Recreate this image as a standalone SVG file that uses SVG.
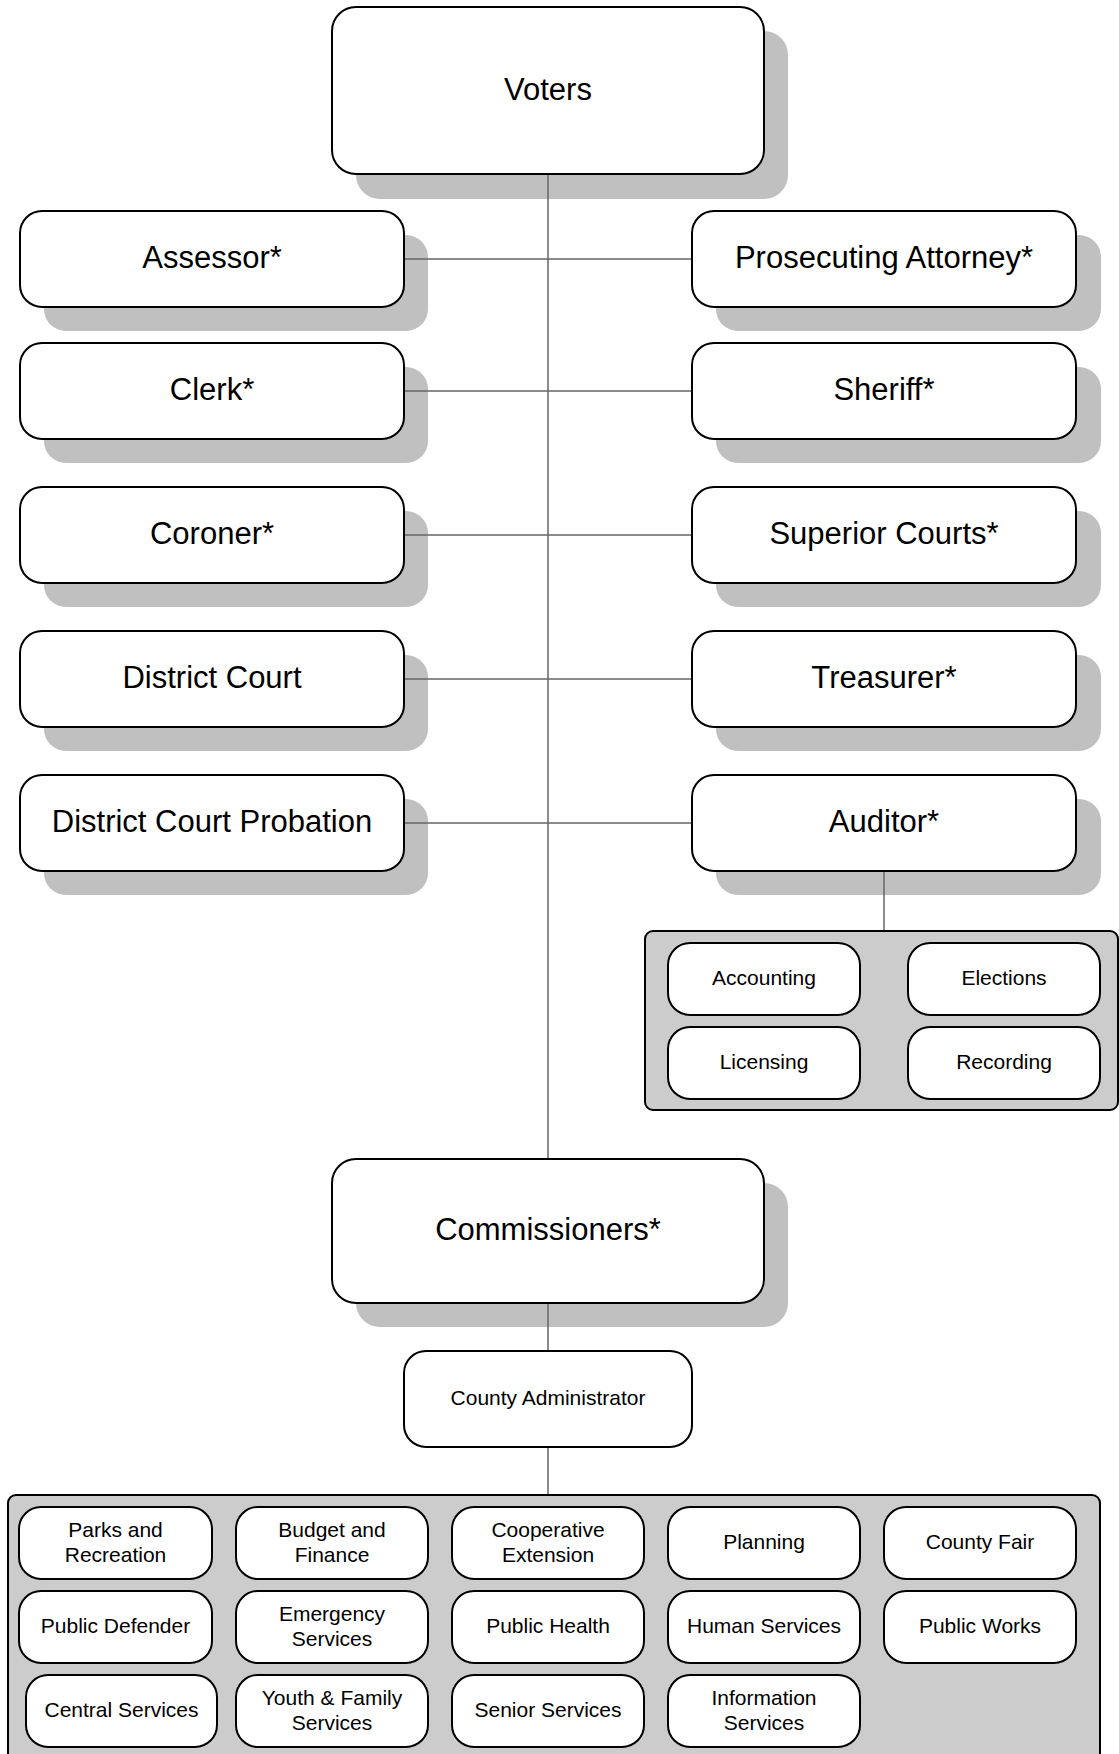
<svg xmlns="http://www.w3.org/2000/svg" width="1119" height="1754" viewBox="0 0 1119 1754">
<style>
.sh{fill:#c0c0c0}
.bx{fill:#fff;stroke:#000;stroke-width:2}
.grp{fill:#cccccc;stroke:#000;stroke-width:2}
.cn{stroke:#666;stroke-width:1.5;fill:none}
text{font-family:"Liberation Sans",Arial,sans-serif;fill:#000;text-anchor:middle}
.L{font-size:31px}
.S{font-size:21px}
</style>
<rect width="1119" height="1754" fill="#fff"/>
<g id="voters"><rect class="sh" x="356" y="31" width="432" height="168" rx="24"/><rect class="bx" x="332" y="7" width="432" height="167" rx="24"/><text class="L" x="548" y="99.5">Voters</text></g>
<g id="assessor"><rect class="sh" x="44" y="235" width="384" height="96" rx="22"/><rect class="bx" x="20" y="211" width="384" height="96" rx="22"/><text class="L" x="212" y="268">Assessor*</text></g>
<g id="prosecuting-attorney"><rect class="sh" x="716" y="235" width="385" height="96" rx="22"/><rect class="bx" x="692" y="211" width="384" height="96" rx="22"/><text class="L" x="884" y="268">Prosecuting Attorney*</text></g>
<g id="clerk"><rect class="sh" x="44" y="367" width="384" height="96" rx="22"/><rect class="bx" x="20" y="343" width="384" height="96" rx="22"/><text class="L" x="212" y="400">Clerk*</text></g>
<g id="sheriff"><rect class="sh" x="716" y="367" width="385" height="96" rx="22"/><rect class="bx" x="692" y="343" width="384" height="96" rx="22"/><text class="L" x="884" y="400">Sheriff*</text></g>
<g id="coroner"><rect class="sh" x="44" y="511" width="384" height="96" rx="22"/><rect class="bx" x="20" y="487" width="384" height="96" rx="22"/><text class="L" x="212" y="544">Coroner*</text></g>
<g id="superior-courts"><rect class="sh" x="716" y="511" width="385" height="96" rx="22"/><rect class="bx" x="692" y="487" width="384" height="96" rx="22"/><text class="L" x="884" y="544">Superior Courts*</text></g>
<g id="district-court"><rect class="sh" x="44" y="655" width="384" height="96" rx="22"/><rect class="bx" x="20" y="631" width="384" height="96" rx="22"/><text class="L" x="212" y="688">District Court</text></g>
<g id="treasurer"><rect class="sh" x="716" y="655" width="385" height="96" rx="22"/><rect class="bx" x="692" y="631" width="384" height="96" rx="22"/><text class="L" x="884" y="688">Treasurer*</text></g>
<g id="district-court-probation"><rect class="sh" x="44" y="799" width="384" height="96" rx="22"/><rect class="bx" x="20" y="775" width="384" height="96" rx="22"/><text class="L" x="212" y="832">District Court Probation</text></g>
<g id="auditor"><rect class="sh" x="716" y="799" width="385" height="96" rx="22"/><rect class="bx" x="692" y="775" width="384" height="96" rx="22"/><text class="L" x="884" y="832">Auditor*</text></g>
<g id="auditor-group"><rect class="grp" x="645" y="931" width="473" height="179" rx="8"/>
<g id="accounting"><rect class="bx" x="668" y="943" width="192" height="72" rx="22"/><text class="S" x="764" y="984.5">Accounting</text></g>
<g id="elections"><rect class="bx" x="908" y="943" width="192" height="72" rx="22"/><text class="S" x="1004" y="984.5">Elections</text></g>
<g id="licensing"><rect class="bx" x="668" y="1027" width="192" height="72" rx="22"/><text class="S" x="764" y="1068.5">Licensing</text></g>
<g id="recording"><rect class="bx" x="908" y="1027" width="192" height="72" rx="22"/><text class="S" x="1004" y="1068.5">Recording</text></g>
</g>
<g id="commissioners"><rect class="sh" x="356" y="1183" width="432" height="144" rx="24"/><rect class="bx" x="332" y="1159" width="432" height="144" rx="24"/><text class="L" x="548" y="1240">Commissioners*</text></g>
<g id="county-administrator"><rect class="bx" x="404" y="1351" width="288" height="96" rx="22"/><text class="S" x="548" y="1404.5">County Administrator</text></g>
<g id="departments"><rect class="grp" x="8" y="1495" width="1092" height="275" rx="8"/>
<g id="parks"><rect class="bx" x="19" y="1507" width="193" height="72" rx="22"/><text class="S" x="115.5"><tspan x="115.5" y="1536.5">Parks and</tspan><tspan x="115.5" y="1561.5">Recreation</tspan></text></g>
<g id="budget"><rect class="bx" x="236" y="1507" width="192" height="72" rx="22"/><text class="S" x="332"><tspan x="332" y="1536.5">Budget and</tspan><tspan x="332" y="1561.5">Finance</tspan></text></g>
<g id="cooperative"><rect class="bx" x="452" y="1507" width="192" height="72" rx="22"/><text class="S" x="548"><tspan x="548" y="1536.5">Cooperative</tspan><tspan x="548" y="1561.5">Extension</tspan></text></g>
<g id="planning"><rect class="bx" x="668" y="1507" width="192" height="72" rx="22"/><text class="S" x="764" y="1548.5">Planning</text></g>
<g id="county-fair"><rect class="bx" x="884" y="1507" width="192" height="72" rx="22"/><text class="S" x="980" y="1548.5">County Fair</text></g>
<g id="public-defender"><rect class="bx" x="19" y="1591" width="193" height="72" rx="22"/><text class="S" x="115.5" y="1632.5">Public Defender</text></g>
<g id="emergency"><rect class="bx" x="236" y="1591" width="192" height="72" rx="22"/><text class="S" x="332"><tspan x="332" y="1620.5">Emergency</tspan><tspan x="332" y="1645.5">Services</tspan></text></g>
<g id="public-health"><rect class="bx" x="452" y="1591" width="192" height="72" rx="22"/><text class="S" x="548" y="1632.5">Public Health</text></g>
<g id="human-services"><rect class="bx" x="668" y="1591" width="192" height="72" rx="22"/><text class="S" x="764" y="1632.5">Human Services</text></g>
<g id="public-works"><rect class="bx" x="884" y="1591" width="192" height="72" rx="22"/><text class="S" x="980" y="1632.5">Public Works</text></g>
<g id="central-services"><rect class="bx" x="26" y="1675" width="191" height="72" rx="22"/><text class="S" x="121.5" y="1716.5">Central Services</text></g>
<g id="youth-family"><rect class="bx" x="236" y="1675" width="192" height="72" rx="22"/><text class="S" x="332"><tspan x="332" y="1704.5">Youth &amp; Family</tspan><tspan x="332" y="1729.5">Services</tspan></text></g>
<g id="senior-services"><rect class="bx" x="452" y="1675" width="192" height="72" rx="22"/><text class="S" x="548" y="1716.5">Senior Services</text></g>
<g id="information-services"><rect class="bx" x="668" y="1675" width="192" height="72" rx="22"/><text class="S" x="764"><tspan x="764" y="1704.5">Information</tspan><tspan x="764" y="1729.5">Services</tspan></text></g>
</g>
<g id="connectors">
<path class="cn" d="M548 175V1158"/>
<path class="cn" d="M405 259H691M405 391H691M405 535H691M405 679H691M405 823H691"/>
<path class="cn" d="M884 872V930"/>
<path class="cn" d="M548 1304V1350M548 1448V1494"/>
</g>
</svg>
